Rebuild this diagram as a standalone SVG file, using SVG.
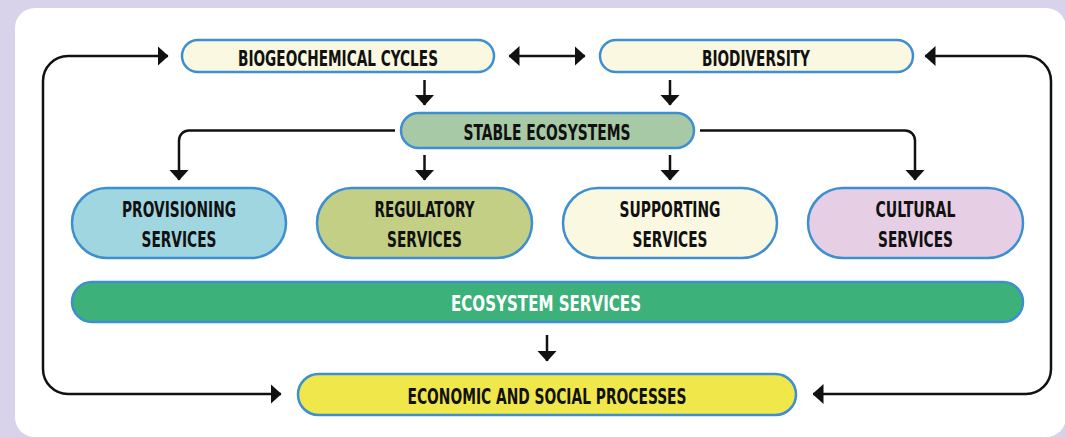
<svg xmlns="http://www.w3.org/2000/svg" width="1065" height="437" viewBox="0 0 1065 437">
<style>
.bx{stroke:#3d8fd1;stroke-width:2.5}
.t{font-family:"DejaVu Sans Condensed","DejaVu Sans","Liberation Sans",sans-serif;font-stretch:condensed;font-weight:bold;font-size:22px;fill:#111;text-anchor:middle}
.w{fill:#fff}
.ln{fill:none;stroke:#111;stroke-width:2.5}
</style>
<defs>
<marker id="ah" viewBox="0 0 11 20" refX="10.5" refY="10" markerWidth="11" markerHeight="20" markerUnits="userSpaceOnUse" orient="auto-start-reverse">
<path d="M0,0 L11,10 L0,20 Z" fill="#111"/>
</marker>
</defs>
<rect x="0" y="0" width="1065" height="437" fill="#d8d3ea"/>
<rect x="15" y="8" width="1051" height="429" rx="20" fill="#fff"/>
<g id="connectors">
<path class="ln" d="M281,394 H68 A25 25 0 0 1 43 369 V81 A25 25 0 0 1 68 56 H168" marker-start="url(#ah)" marker-end="url(#ah)"/>
<path class="ln" d="M813,394 H1026 A25 25 0 0 0 1051 369 V81 A25 25 0 0 0 1026 56 H925" marker-start="url(#ah)" marker-end="url(#ah)"/>
<path class="ln" d="M509,56 H585" marker-start="url(#ah)" marker-end="url(#ah)"/>
<path class="ln" d="M424.5,80 V105" marker-end="url(#ah)"/>
<path class="ln" d="M670,80 V105" marker-end="url(#ah)"/>
<path class="ln" d="M395,130.5 H189 A10 10 0 0 0 179 140.5 V180" marker-end="url(#ah)"/>
<path class="ln" d="M700,130.5 H905 A10 10 0 0 1 915 140.5 V180" marker-end="url(#ah)"/>
<path class="ln" d="M424.5,155 V180" marker-end="url(#ah)"/>
<path class="ln" d="M670,155 V180" marker-end="url(#ah)"/>
<path class="ln" d="M547,335 V361" marker-end="url(#ah)"/>
</g>
<g id="biogeochemical">
<rect class="bx" x="182" y="40" width="312" height="32" rx="16" fill="#faf8e0"/>
<text class="t" x="338" y="65.5" textLength="200" lengthAdjust="spacingAndGlyphs">BIOGEOCHEMICAL CYCLES</text>
</g>
<g id="biodiversity">
<rect class="bx" x="600" y="40" width="313" height="32" rx="16" fill="#faf8e0"/>
<text class="t" x="756" y="65.5" textLength="108" lengthAdjust="spacingAndGlyphs">BIODIVERSITY</text>
</g>
<g id="stable">
<rect class="bx" x="401" y="113" width="293" height="35" rx="17.5" fill="#a8c9a5"/>
<text class="t" x="547" y="140" textLength="167" lengthAdjust="spacingAndGlyphs">STABLE ECOSYSTEMS</text>
</g>
<g id="provisioning">
<rect class="bx" x="72" y="188" width="214" height="70" rx="35" fill="#9fd6e0"/>
<text class="t" x="179" y="217" textLength="114" lengthAdjust="spacingAndGlyphs">PROVISIONING</text>
<text class="t" x="179" y="247" textLength="75" lengthAdjust="spacingAndGlyphs">SERVICES</text>
</g>
<g id="regulatory">
<rect class="bx" x="317" y="188" width="215" height="70" rx="35" fill="#c3cf85"/>
<text class="t" x="424.5" y="217" textLength="100" lengthAdjust="spacingAndGlyphs">REGULATORY</text>
<text class="t" x="424.5" y="247" textLength="75" lengthAdjust="spacingAndGlyphs">SERVICES</text>
</g>
<g id="supporting">
<rect class="bx" x="563" y="188" width="214" height="70" rx="35" fill="#faf8e0"/>
<text class="t" x="670" y="217" textLength="101" lengthAdjust="spacingAndGlyphs">SUPPORTING</text>
<text class="t" x="670" y="247" textLength="75" lengthAdjust="spacingAndGlyphs">SERVICES</text>
</g>
<g id="cultural">
<rect class="bx" x="808" y="188" width="215" height="70" rx="35" fill="#e6cfe4"/>
<text class="t" x="915.5" y="217" textLength="80" lengthAdjust="spacingAndGlyphs">CULTURAL</text>
<text class="t" x="915.5" y="247" textLength="75" lengthAdjust="spacingAndGlyphs">SERVICES</text>
</g>
<g id="ecosystem-services">
<rect class="bx" x="72" y="282" width="951" height="40" rx="20" fill="#3cb27a"/>
<text class="t w" x="546" y="311" textLength="190" lengthAdjust="spacingAndGlyphs">ECOSYSTEM SERVICES</text>
</g>
<g id="economic">
<rect class="bx" x="298" y="374" width="498" height="41" rx="20.5" fill="#f0e84a"/>
<text class="t" x="547" y="403.5" textLength="279" lengthAdjust="spacingAndGlyphs">ECONOMIC AND SOCIAL PROCESSES</text>
</g>
</svg>
